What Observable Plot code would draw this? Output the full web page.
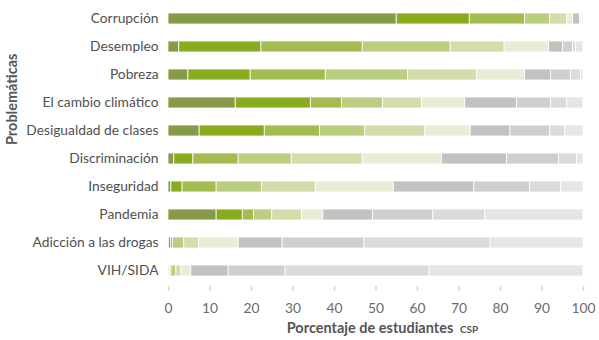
<!DOCTYPE html>
<html>
<head>
<meta charset="utf-8">
<script src="https://cdn.jsdelivr.net/npm/d3@7"></script>
<script src="https://cdn.jsdelivr.net/npm/@observablehq/plot@0.6"></script>
<style>
  html, body { margin: 0; padding: 0; background: #fff; }
  #chart svg { display: block; }
</style>
</head>
<body>
<div id="chart"></div>
<script>
const categories = ["Corrupción", "Desempleo", "Pobreza", "El cambio climático", "Desigualdad de clases",
  "Discriminación", "Inseguridad", "Pandemia", "Adicción a las drogas", "VIH/SIDA"];
const ranks = ["1", "2", "3", "4", "5", "6", "7", "8", "9", "10"];
const rankColors = ["#869a47", "#87ac1e", "#a3bb4f", "#bbcd7e", "#d3ddab", "#e8edd7",
  "#c3c2c0", "#d0cfcd", "#dbdbdb", "#e7e5e5"];

const corrupcion     = [55.0, 17.6, 13.3, 6.1, 4.1, 1.4, 1.7, 0.2, 0.3, 0.3];
const desempleo      = [2.6, 19.8, 24.4, 21.2, 13.0, 10.7, 3.4, 2.4, 0.7, 1.8];
const pobreza        = [4.8, 15.0, 18.1, 19.8, 16.6, 11.6, 6.3, 4.8, 2.4, 0.6];
const cambioClimatico = [16.2, 18.1, 7.5, 9.9, 9.4, 10.4, 12.5, 8.2, 3.9, 3.9];
const desigualdad    = [7.5, 15.7, 13.3, 10.9, 14.5, 10.9, 9.6, 9.6, 3.6, 4.4];
const discriminacion = [1.4, 4.6, 10.9, 12.8, 17.1, 19.1, 15.7, 12.5, 4.3, 1.6];
const inseguridad    = [0.7, 2.7, 8.2, 10.9, 13.0, 18.8, 19.4, 13.4, 7.5, 5.4];
const pandemia       = [11.6, 6.3, 2.7, 4.4, 7.2, 5.1, 12.0, 14.5, 12.5, 23.7];
const adiccion       = [0.1, 0.5, 0.5, 2.7, 3.6, 9.5, 10.6, 19.7, 30.4, 22.4];
const vihSida        = [0.1, 0.3, 0.3, 1.2, 1.2, 2.4, 9.0, 13.7, 34.7, 37.1];

const xTicks = [0, 10, 20, 30, 40, 50, 60, 70, 80, 90, 100];
const xLabel = "Porcentaje de estudiantes";
const xLabelSuffix = "csp";
const yLabel = "Problemáticas";

const rows = [corrupcion, desempleo, pobreza, cambioClimatico, desigualdad,
  discriminacion, inseguridad, pandemia, adiccion, vihSida];
const table = rows.flatMap((vals, i) =>
  vals.map((v, j) => ({category: categories[i], rank: ranks[j], value: v})));

const font = "Lato, 'Open Sans', sans-serif";
const gridColor = "#d6d6d6";

const chart = Plot.plot({
  width: 599,
  height: 340,
  marginLeft: 168,
  marginRight: 16,
  marginTop: 3,
  marginBottom: 54,
  style: {fontFamily: font, fontSize: "13px", color: "#555", background: "#fff"},
  x: {domain: [0, 100], ticks: xTicks},
  y: {domain: categories, paddingInner: 0.6, paddingOuter: 0.3},
  color: {domain: ranks, range: rankColors},
  marks: [
    Plot.gridX(xTicks, {stroke: gridColor, strokeOpacity: 1, strokeWidth: 1.5, y1: 3, y2: 286}),
    Plot.barX(table, Plot.stackX({
      y: "category", x: "value", fill: "rank", z: "rank", order: null,
      stroke: "white", strokeWidth: 0.8
    })),
    Plot.axisX(xTicks, {
      tickSize: 5, tickPadding: 12, stroke: gridColor, strokeWidth: 1.5,
      fill: "#6b6b6b", fontSize: 13.8, label: null
    }),
    Plot.axisY({tickSize: 0, tickPadding: 10, fill: "#505050", fontSize: 13.8, label: null}),
    Plot.text([xLabel], {
      frameAnchor: "bottom", dy: 46, dx: -6, text: d => d,
      fontWeight: "bold", fontSize: 14.5, fill: "#555"
    }),
    Plot.text([xLabelSuffix], {
      frameAnchor: "bottom", dy: 46, dx: 84, text: d => d, textAnchor: "start",
      fontWeight: "bold", fontSize: 14.5, fill: "#555", fontVariant: "small-caps"
    }),
    Plot.text([yLabel], {
      frameAnchor: "left", dx: -156, rotate: -90, text: d => d,
      fontWeight: "bold", fontSize: 14.5, fill: "#555"
    })
  ]
});
document.getElementById("chart").appendChild(chart);
</script>
</body>
</html>
